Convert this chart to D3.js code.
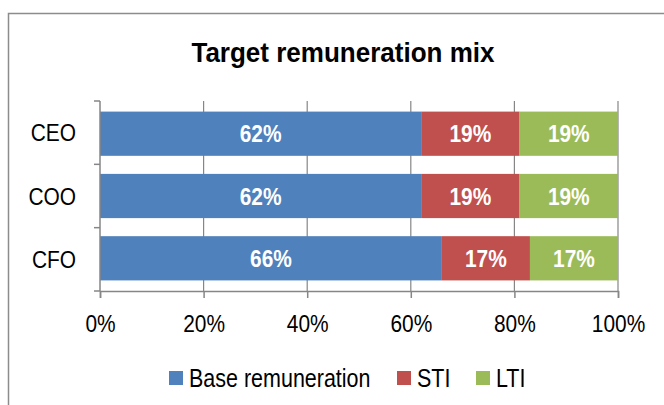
<!DOCTYPE html>
<meta charset="utf-8">
<style>
body { margin: 0; background: #fff; }
svg text { font-family: "Liberation Sans", Arial, sans-serif; }
</style>
<body>
<script src="https://cdnjs.cloudflare.com/ajax/libs/d3/7.8.5/d3.min.js"></script>
<script>

var roles = ["CEO", "COO", "CFO"];
var seriesNames = ["Base remuneration", "STI", "LTI"];
var baseValues = [62, 62, 66];
var stiValues = [19, 19, 17];
var ltiValues = [19, 19, 17];
var ticks = [0, 20, 40, 60, 80, 100];
var colors = ["#4f81bd", "#c0504d", "#9bbb59"];

var width = 664, height = 405;
var margin = {top: 101, left: 100, right: 46, bottom: 114};
var plotW = width - margin.left - margin.right,
    plotH = height - margin.top - margin.bottom;
var SX = 0.87; // narrow the font like Arial Narrow

// squeeze text horizontally, keeping its anchor point
function narrow(sel, sx) {
  sel.each(function() {
    var t = d3.select(this);
    var x0 = +t.attr("x") || 0;
    t.attr("x", x0 / sx).attr("transform", "scale(" + sx + ",1)");
  });
}

var svg = d3.select("body").append("svg")
    .attr("width", width)
    .attr("height", height);

// chart frame
svg.append("rect")
    .attr("x", 8.5).attr("y", 13.5)
    .attr("width", 700).attr("height", 450)
    .attr("fill", "none")
    .attr("stroke", "#8c8c8c")
    .attr("stroke-width", 1.5);

svg.append("text")
    .attr("x", 343).attr("y", 62)
    .attr("text-anchor", "middle")
    .style("font-size", "28px")
    .style("font-weight", "bold")
    .text("Target remuneration mix")
    .call(narrow, 0.93);

var g = svg.append("g")
    .attr("transform", "translate(" + margin.left + "," + margin.top + ")");

var x = d3.scaleLinear().domain([0, 100]).range([0, plotW]);
var y = d3.scaleBand().domain(roles).range([0, plotH]).paddingInner(0.29).paddingOuter(0.17);
var yCat = d3.scaleBand().domain(roles).range([0, plotH]);

// vertical gridlines
g.selectAll(".grid")
    .data(ticks.slice(1))
  .enter().append("line")
    .attr("x1", function(d) { return x(d); })
    .attr("x2", function(d) { return x(d); })
    .attr("y1", 0).attr("y2", plotH)
    .attr("stroke", "#868686")
    .attr("stroke-width", 1.2);

var table = roles.map(function(r, i) {
  return {role: r, values: [baseValues[i], stiValues[i], ltiValues[i]]};
});

var segs = [];
table.forEach(function(d) {
  var acc = 0;
  d.values.forEach(function(v, k) {
    segs.push({role: d.role, k: k, x0: acc, x1: acc + v, v: v});
    acc += v;
  });
});

g.selectAll(".seg")
    .data(segs)
  .enter().append("rect")
    .attr("x", function(d) { return x(d.x0); })
    .attr("y", function(d) { return y(d.role); })
    .attr("width", function(d) { return x(d.x1) - x(d.x0); })
    .attr("height", y.bandwidth())
    .attr("fill", function(d) { return colors[d.k]; });

g.selectAll(".lbl")
    .data(segs)
  .enter().append("text")
    .attr("x", function(d) { return (x(d.x0) + x(d.x1)) / 2; })
    .attr("y", function(d) { return y(d.role) + y.bandwidth() / 2; })
    .attr("dy", "0.36em")
    .attr("text-anchor", "middle")
    .attr("fill", "#fff")
    .style("font-size", "24px")
    .style("font-weight", "bold")
    .text(function(d) { return d.v + "%"; })
    .call(narrow, SX);

// x axis
var xAxis = g.append("g")
    .attr("transform", "translate(0," + plotH + ")")
    .call(d3.axisBottom(x).tickValues(ticks).tickSize(7).tickPadding(17)
      .tickFormat(function(d) { return d + "%"; }));
xAxis.select(".domain").attr("stroke", "#868686").attr("stroke-width", 1.5);
xAxis.selectAll(".tick line").attr("stroke", "#868686").attr("stroke-width", 1.5);
xAxis.selectAll("text")
    .attr("fill", "#000")
    .style("font-size", "24px")
    .style("font-family", "'Liberation Sans', Arial, sans-serif")
    .call(narrow, SX);

// y axis
var yAxisG = g.append("g");
yAxisG.append("line")
    .attr("x1", 0).attr("x2", 0).attr("y1", 0).attr("y2", plotH)
    .attr("stroke", "#868686").attr("stroke-width", 1.5);
yAxisG.selectAll(".ytick")
    .data([0].concat(roles.map(function(r) { return yCat(r) + yCat.bandwidth(); })))
  .enter().append("line")
    .attr("x1", -6).attr("x2", 0)
    .attr("y1", function(d) { return d; })
    .attr("y2", function(d) { return d; })
    .attr("stroke", "#868686").attr("stroke-width", 1.5);
yAxisG.selectAll(".ylbl")
    .data(roles)
  .enter().append("text")
    .attr("x", -24)
    .attr("y", function(d) { return yCat(d) + yCat.bandwidth() / 2; })
    .attr("dy", "0.36em")
    .attr("text-anchor", "end")
    .style("font-size", "24px")
    .text(function(d) { return d; })
    .call(narrow, SX);

// legend
var legendX = [169, 397, 476];
var legend = svg.selectAll(".legend")
    .data(seriesNames)
  .enter().append("g")
    .attr("transform", function(d, i) { return "translate(" + legendX[i] + ",378)"; });
legend.append("rect")
    .attr("x", 0).attr("y", -7)
    .attr("width", 14).attr("height", 14)
    .attr("fill", function(d, i) { return colors[i]; });
legend.append("text")
    .attr("x", 20).attr("y", 9)
    .style("font-size", "25px")
    .text(function(d) { return d; })
    .call(narrow, 0.86);

</script>
